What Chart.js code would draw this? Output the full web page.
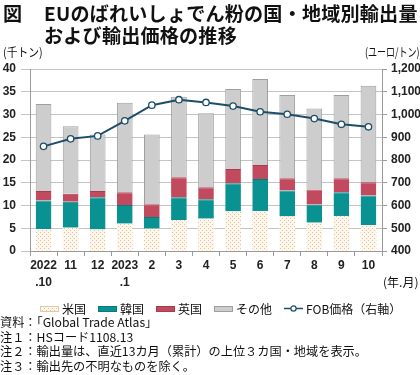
<!DOCTYPE html>
<html>
<head>
<meta charset="utf-8">
<script src="https://cdn.jsdelivr.net/npm/chart.js@4/dist/chart.umd.min.js"></script>
<style>
  html, body { margin:0; padding:0; background:#fff; }
  body { width:420px; height:375px; position:relative; overflow:hidden; font-family:"Noto Sans CJK JP","Liberation Sans",sans-serif; color:#111; }
  #c { position:absolute; left:0; top:0; }
  .abs { position:absolute; white-space:nowrap; }
  .title { font-size:19.1px; font-weight:bold; line-height:22px; letter-spacing:0.2px; }
  .unit { font-size:12px; line-height:14px; transform-origin:0 0; }
  .legend { position:absolute; left:40px; top:302px; height:12px; display:flex; align-items:center; font-size:12px; white-space:nowrap; }
  .legend .it { display:flex; align-items:center; margin-right:12px; }
  .legend canvas { margin-right:3px; }
  .notes { position:absolute; left:0; top:315px; font-size:12.2px; line-height:14.6px; white-space:nowrap; }
</style>
</head>
<body>
<canvas id="c" width="420" height="375"></canvas>
<div class="abs title" style="left:3px;top:2px;">図</div>
<div class="abs title" style="left:44px;top:2px;">EUのばれいしょでん粉の国・地域別輸出量</div>
<div class="abs title" style="left:44px;top:24px;">および輸出価格の推移</div>
<div class="abs unit" style="left:3px;top:45px;transform:scaleX(0.9);">(千トン)</div>
<div class="abs unit" style="left:365px;top:45px;transform:scaleX(0.75);">(ユーロ/トン)</div>
<div class="abs unit" style="left:383px;top:275px;">(年.月)</div>
<div class="legend" id="legend"></div>
<div class="notes">資料：「Global Trade Atlas」<br>注１：HSコード1108.13<br>注２：輸出量は、直近13カ月（累計）の上位３カ国・地域を表示。<br>注３：輸出先の不明なものを除く。</div>
<script>
// ---- data ----
const categories = [["2022", ".10"], "11", "12", ["2023", ".1"], "2", "3", "4", "5", "6", "7", "8", "9", "10"];
const usValues    = [4.8, 5.1, 4.7, 6.0, 4.9, 6.8, 7.1, 8.7, 8.8, 7.6, 6.2, 7.7, 5.7];
const koreaValues = [6.3, 5.7, 7.1, 4.1, 2.6, 5.0, 4.3, 6.2, 7.0, 5.7, 4.0, 5.2, 6.5];
const ukValues    = [2.1, 1.8, 1.4, 2.8, 2.8, 4.4, 2.6, 3.1, 3.1, 2.7, 3.3, 3.1, 2.9];
const otherValues = [19.1, 14.8, 12.4, 19.7, 15.3, 17.7, 16.3, 17.6, 18.9, 18.3, 17.8, 18.3, 21.2];
const fobPrice    = [860, 893, 906, 972, 1041, 1065, 1053, 1037, 1012, 1001, 982, 957, 946];
const seriesNames = ["米国", "韓国", "英国", "その他", "FOB価格（右軸）"];
const leftTicks  = [0, 5, 10, 15, 20, 25, 30, 35, 40];
const rightTicks = [400, 500, 600, 700, 800, 900, 1000, 1100, 1200];

// ---- styles ----
const TEAL = "#0a9191", RED = "#c24a5e", GRAY = "#cdcdcd", GRAYB = "#9f9f9f", LINE = "#1d4d68";
function makePattern() {
  const p = document.createElement("canvas");
  p.width = 4; p.height = 4;
  const g = p.getContext("2d");
  g.fillStyle = "#fcf6ec"; g.fillRect(0, 0, 4, 4);
  g.fillStyle = "#e2c296";
  g.fillRect(0, 0, 1, 1); g.fillRect(2, 2, 1, 1);
  return g.createPattern(p, "repeat");
}
const usPattern = makePattern();

// legend (HTML)
function swatch(type, fill, stroke) {
  const c = document.createElement("canvas");
  c.width = 19; c.height = 9;
  const g = c.getContext("2d");
  if (type === "box") {
    g.fillStyle = fill; g.fillRect(0.5, 2.5, 18, 5);
    g.strokeStyle = stroke; g.lineWidth = 1; g.strokeRect(0.5, 2.5, 18, 5);
  } else {
    g.strokeStyle = LINE; g.lineWidth = 1.5;
    g.beginPath(); g.moveTo(0, 4.5); g.lineTo(19, 4.5); g.stroke();
    g.fillStyle = "#fff"; g.lineWidth = 1.2;
    g.beginPath(); g.arc(9.5, 4.5, 2.6, 0, Math.PI * 2); g.fill(); g.stroke();
  }
  return c;
}
const legendDefs = [
  ["box", usPattern, "#e0cba8"], ["box", TEAL, "#087a7a"], ["box", RED, "#a83c4e"], ["box", GRAY, GRAYB], ["line"]
];
const lg = document.getElementById("legend");
legendDefs.forEach((d, i) => {
  const it = document.createElement("div"); it.className = "it";
  it.appendChild(swatch(d[0], d[1], d[2]));
  const s = document.createElement("span"); s.textContent = seriesNames[i];
  it.appendChild(s); lg.appendChild(it);
});

const tickFont = { family: "'Liberation Sans', Arial, sans-serif", size: 12, weight: "bold" };

new Chart(document.getElementById("c"), {
  data: {
    labels: categories,
    datasets: [
      { type: "line", label: seriesNames[4], data: fobPrice, yAxisID: "y2", order: 0,
        borderColor: LINE, borderWidth: 2, pointRadius: 3.2, pointBackgroundColor: "#fff",
        pointBorderColor: LINE, pointBorderWidth: 1.3, tension: 0, fill: false },
      { type: "bar", label: seriesNames[0], data: usValues, yAxisID: "y", order: 1,
        backgroundColor: usPattern, borderColor: "#eadbc2", borderWidth: 0, barPercentage: 0.58, categoryPercentage: 1 },
      { type: "bar", label: seriesNames[1], data: koreaValues, yAxisID: "y", order: 1,
        backgroundColor: TEAL, borderColor: "#087a7a", borderWidth: { top: 1 }, barPercentage: 0.58, categoryPercentage: 1 },
      { type: "bar", label: seriesNames[2], data: ukValues, yAxisID: "y", order: 1,
        backgroundColor: RED, borderColor: "#a83c4e", borderWidth: { top: 1 }, barPercentage: 0.58, categoryPercentage: 1 },
      { type: "bar", label: seriesNames[3], data: otherValues, yAxisID: "y", order: 1,
        backgroundColor: GRAY, borderColor: GRAYB, borderWidth: 1, borderSkipped: "bottom", barPercentage: 0.58, categoryPercentage: 1 }
    ]
  },
  options: {
    responsive: false,
    animation: false,
    layout: { padding: { top: 69, left: 0, right: 0, bottom: 84 } },
    plugins: { legend: { display: false }, tooltip: { enabled: false } },
    scales: {
      x: {
        stacked: true,
        grid: { display: true, drawOnChartArea: false, offset: true, tickLength: 5, color: "#9a9a9a" },
        border: { display: true, color: "#9a9a9a" },
        ticks: { font: { ...tickFont, lineHeight: 1.4 }, color: "#222", padding: 1, maxRotation: 0, autoSkip: false },
        afterFit: s => { s.height = 40; }
      },
      y: {
        position: "left", stacked: true, min: 0, max: 40,
        afterBuildTicks: s => { s.ticks = leftTicks.map(v => ({ value: v })); },
        grid: { color: "#c4c4c4", tickLength: 9, drawTicks: true },
        border: { display: true, color: "#9a9a9a" },
        ticks: { font: tickFont, color: "#222", padding: 5 },
        afterFit: s => { s.width = 30; }
      },
      y2: {
        position: "right", stacked: false, min: 400, max: 1200,
        afterBuildTicks: s => { s.ticks = rightTicks.map(v => ({ value: v })); },
        grid: { drawOnChartArea: false, tickLength: 5, color: "#9a9a9a" },
        border: { display: true, color: "#9a9a9a" },
        ticks: { font: tickFont, color: "#222", padding: 4,
                 callback: v => v.toLocaleString("en-US") },
        afterFit: s => { s.width = 38; }
      }
    }
  }
});
</script>
</body>
</html>
